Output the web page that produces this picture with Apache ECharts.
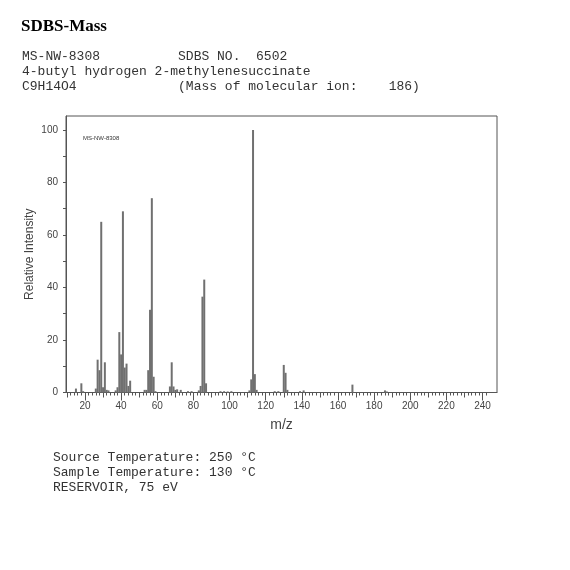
<!DOCTYPE html>
<html>
<head>
<meta charset="utf-8">
<script src="https://cdn.jsdelivr.net/npm/echarts@6/dist/echarts.min.js"></script>
<style>
  html, body { margin: 0; padding: 0; background: #fff; }
  #chart { width: 570px; height: 570px; }
</style>
</head>
<body>
<div id="chart"></div>
<script>
// peaks (m/z, relative intensity)
var mz = [15, 18, 19, 26, 27, 28, 29, 30, 31, 32, 33, 37, 38, 39, 40, 41, 42, 43, 44, 45,
  53, 54, 55, 56, 57, 58, 59, 67, 68, 69, 70, 71, 73, 77, 79, 83, 84, 85, 86, 87,
  95, 97, 99, 101, 111, 112, 113, 114, 115, 125, 127, 130, 131, 132, 139, 141, 168, 186, 187];
var intensity = [1.5, 3.5, 0.5, 1.5, 12.5, 8.5, 65, 2, 11.5, 1, 0.8, 0.8, 2, 23, 14.5, 69, 9.5, 11, 2.5, 4.5,
  1, 1, 8.5, 31.5, 74, 6, 0.5, 2.3, 11.5, 2.3, 1, 1.2, 1, 0.5, 0.5, 0.8, 2.5, 36.5, 43, 3.5,
  0.5, 0.5, 0.4, 0.5, 0.8, 5, 100, 7, 1, 0.5, 0.5, 10.5, 7.5, 1, 0.5, 0.8, 3, 0.8, 0.4];

var xLabels = [20, 40, 60, 80, 100, 120, 140, 160, 180, 200, 220, 240];
var xMidTicks = [10, 30, 50, 70, 90, 110, 130, 150, 170, 190, 210, 230];
var xMinorTicks = [];
for (var t = 10; t <= 242; t += 2) xMinorTicks.push(t);
var yLabels = [0, 20, 40, 60, 80, 100];
var yTicks = [0, 10, 20, 30, 40, 50, 60, 70, 80, 90, 100];

var headerLines = [
  'MS-NW-8308          SDBS NO.  6502',
  '4-butyl hydrogen 2-methylenesuccinate',
  'C9H14O4             (Mass of molecular ion:    186)'
];
var footerLines = [
  'Source Temperature: 250 \u00B0C',
  'Sample Temperature: 130 \u00B0C',
  'RESERVOIR, 75 eV'
];

var peaks = mz.map(function (m, i) { return [m, intensity[i]]; });

var mono = '13px "Liberation Mono", monospace';
var graphics = [{
  type: 'text', left: 21, top: 18,
  style: { text: 'SDBS-Mass', font: 'bold 17px "Liberation Serif", serif', fill: '#000' }
}];
headerLines.forEach(function (s, i) {
  graphics.push({ type: 'text', left: 22, top: 50 + i * 15, style: { text: s, font: mono, fill: '#333' } });
});
footerLines.forEach(function (s, i) {
  graphics.push({ type: 'text', left: 53, top: 451 + i * 15, style: { text: s, font: mono, fill: '#333' } });
});
graphics.push({
  type: 'text', left: 83, top: 135,
  style: { text: 'MS-NW-8308', font: '6px "Liberation Sans", sans-serif', fill: '#333' }
});

var axisBase = {
  type: 'value', min: 9.5, max: 248, position: 'bottom',
  splitLine: { show: false }
};

var chart = echarts.init(document.getElementById('chart'));
chart.setOption({
  animation: false,
  backgroundColor: '#fff',
  graphic: graphics,
  grid: {
    left: 66, right: 73, top: 116, bottom: 177.5,
    show: true, borderColor: '#555', borderWidth: 1
  },
  xAxis: [
    Object.assign({}, axisBase, {
      name: 'm/z', nameLocation: 'middle', nameGap: 26,
      nameTextStyle: { fontFamily: 'Liberation Sans', fontSize: 14, color: '#444' },
      axisLine: { show: true, lineStyle: { color: '#555' } },
      axisTick: { customValues: xLabels, length: 8, lineStyle: { color: '#555' } },
      axisLabel: { customValues: xLabels, fontFamily: 'Liberation Sans', fontSize: 10, color: '#444', margin: 9 }
    }),
    Object.assign({}, axisBase, {
      axisLine: { show: false },
      axisTick: { customValues: xMidTicks, length: 5, lineStyle: { color: '#555' } },
      axisLabel: { show: false }
    }),
    Object.assign({}, axisBase, {
      axisLine: { show: false },
      axisTick: { customValues: xMinorTicks, length: 3, lineStyle: { color: '#555' } },
      axisLabel: { show: false }
    })
  ],
  yAxis: {
    type: 'value', min: 0, max: 105.3,
    name: 'Relative Intensity', nameLocation: 'middle', nameGap: 30,
    nameMoveOverlap: false,
    nameTextStyle: { fontFamily: 'Liberation Sans', fontSize: 12, color: '#444' },
    axisLine: { show: true, lineStyle: { color: '#555' } },
    axisTick: { customValues: yTicks, length: 3, lineStyle: { color: '#555' } },
    axisLabel: { customValues: yLabels, fontFamily: 'Liberation Sans', fontSize: 10, color: '#444', margin: 8 },
    splitLine: { show: false }
  },
  series: [{
    type: 'bar',
    data: peaks,
    barWidth: 2,
    itemStyle: { color: '#707070' }
  }]
});
</script>
</body>
</html>
